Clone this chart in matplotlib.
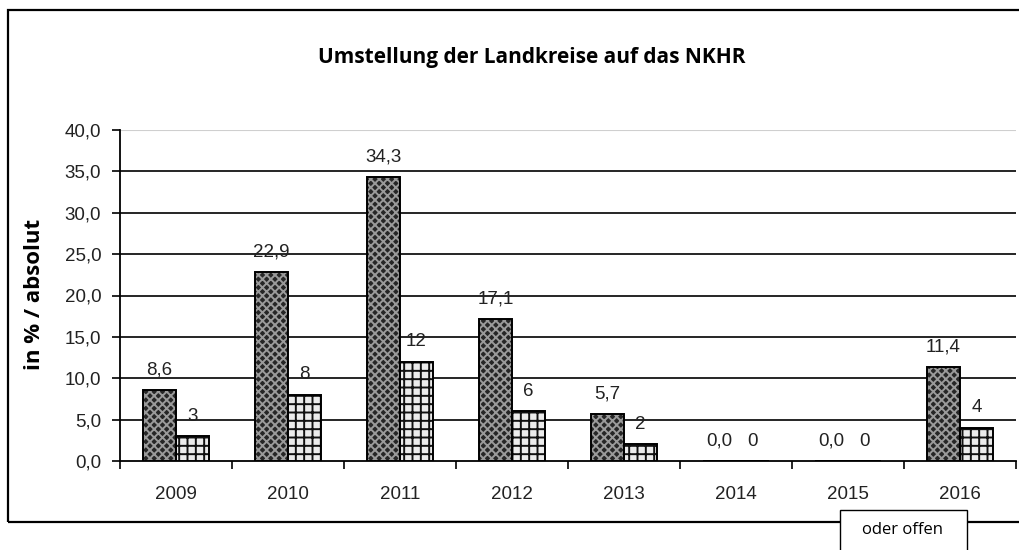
import numpy as np
import matplotlib
matplotlib.use("Agg")
import matplotlib.pyplot as plt
from matplotlib.patches import Rectangle

years = ["2009", "2010", "2011", "2012", "2013", "2014", "2015", "2016"]
percent = [8.6, 22.9, 34.3, 17.1, 5.7, 0.0, 0.0, 11.4]
absolute = [3, 8, 12, 6, 2, 0, 0, 4]

W, H = 1020, 550
fig = plt.figure(figsize=(W / 100, H / 100), dpi=100)
plt.rcParams['hatch.linewidth'] = 1.4

# outer frame
fig.patches.append(Rectangle((8 / W, 1 - 522 / H), 1.02, (522 - 10) / H,
                             transform=fig.transFigure, fill=False,
                             edgecolor="black", linewidth=1.6, zorder=0))

ax = fig.add_axes([120 / W, 1 - 461 / H, (1016 - 120) / W, (461 - 130) / H])
x = np.arange(len(years))
bw = 0.295

# percent bars: dark fill with light hatch, then black outline
ax.bar(x - bw / 2, percent, bw, color="#262626", edgecolor="#9a9a9a",
       hatch="xxxx", linewidth=0, zorder=3)
ax.bar(x - bw / 2, percent, bw, fill=False, edgecolor="black", linewidth=1.4, zorder=4)
# absolute bars: brick-like pattern
ax.bar(x + bw / 2, absolute, bw, color="#ececec", edgecolor="#111111",
       hatch="++", linewidth=0, zorder=3)
ax.bar(x + bw / 2, absolute, bw, fill=False, edgecolor="black", linewidth=1.4, zorder=4)

lab_font = dict(family="Liberation Sans", fontsize=13.5, color="#222222")
for i in range(len(years)):
    p, a = percent[i], absolute[i]
    ax.annotate(f"{p:.1f}".replace(".", ","), (x[i] - bw / 2, p),
                xytext=(0, 20), textcoords="offset pixels",
                ha="center", va="center", **lab_font)
    ax.annotate(f"{a}", (x[i] + bw / 2, a),
                xytext=(0, 20), textcoords="offset pixels",
                ha="center", va="center", **lab_font)

ax.set_xlim(-0.5, len(years) - 0.5)
ax.set_ylim(0, 40)
ax.set_yticks(np.arange(0, 41, 5))
ax.set_yticklabels([f"{v:.1f}".replace(".", ",") for v in np.arange(0, 41, 5)],
                   family="Liberation Sans", fontsize=13.5, color="#222222")
for v in np.arange(5, 40, 5):
    ax.axhline(v, color="black", linewidth=1.2, zorder=1)
ax.axhline(40, color="#cfcfcf", linewidth=1.5, zorder=1)

ax.set_xticks(np.arange(-0.5, len(years), 1))
ax.set_xticklabels([])
ax.set_xticks(x, minor=True)
ax.set_xticklabels(years, minor=True, family="Liberation Sans", fontsize=13.5,
                   color="#222222")
ax.tick_params(axis="x", which="minor", length=0, pad=18)
ax.tick_params(axis="x", which="major", length=6, width=1.2, direction="out")
ax.tick_params(axis="y", length=6, width=1.2, direction="out", pad=7.5)

for s in ["top", "right"]:
    ax.spines[s].set_visible(False)
for s in ["left", "bottom"]:
    ax.spines[s].set_linewidth(1.3)
ax.set_facecolor("none")

fig.text(532 / W, 1 - 57 / H, "Umstellung der Landkreise auf das NKHR",
         ha="center", va="center", fontsize=15, fontweight="bold",
         family="Open Sans")
fig.text(35 / W, 1 - 294 / H, "in % / absolut", ha="center", va="center",
         rotation=90, fontsize=16, fontweight="bold", family="Open Sans")

# "oder offen" box at the bottom
fig.patches.append(Rectangle((840 / W, -0.05), (967 - 840) / W, 0.05 + (550 - 510) / H,
                             transform=fig.transFigure, facecolor="white",
                             edgecolor="black", linewidth=1.0, zorder=2))
fig.text(903 / W, 1 - 530 / H, "oder offen", ha="center", va="center",
         fontsize=12, family="Open Sans", zorder=3)

fig.savefig("out.png", dpi=100)
